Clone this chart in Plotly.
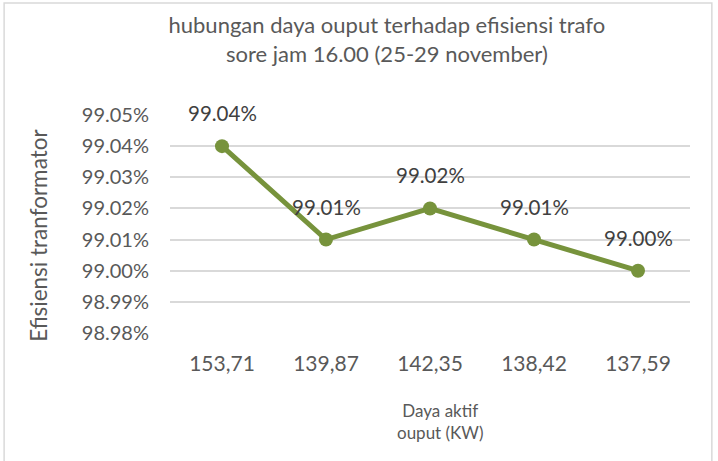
import plotly.graph_objects as go

categories = ["153,71", "139,87", "142,35", "138,42", "137,59"]
efficiency = [0.9904, 0.9901, 0.9902, 0.9901, 0.9900]
y_ticks = [0.9898, 0.9899, 0.9900, 0.9901, 0.9902, 0.9903, 0.9904, 0.9905]

FONT = "Lato, Open Sans, sans-serif"
GREY_TEXT = "#595959"
LINE_GREEN = "#77933C"

fig = go.Figure()
fig.add_trace(go.Scatter(
    x=categories, y=efficiency,
    mode="lines+markers",
    line=dict(color=LINE_GREEN, width=5),
    marker=dict(size=14, color=LINE_GREEN),
    hoverinfo="skip",
))

# data labels above each point
for cat, val in zip(categories, efficiency):
    fig.add_annotation(
        x=cat, y=val, text=f"{val * 100:.2f}%", showarrow=False,
        yshift=33, font=dict(family=FONT, size=20.5, color="#404040"),
    )

fig.update_layout(
    width=718, height=461,
    margin=dict(l=170, r=28, t=115, b=128),
    paper_bgcolor="white", plot_bgcolor="white",
    showlegend=False,
    font=dict(family=FONT, color=GREY_TEXT),
    title=dict(
        text="hubungan daya ouput terhadap efisiensi trafo<br>sore jam 16.00 (25-29 november)",
        font=dict(family=FONT, size=22, color=GREY_TEXT),
        xref="paper", x=0.417, xanchor="center",
        yref="container", y=1 - 33 / 461, yanchor="middle",
    ),
    xaxis=dict(
        type="category", range=[-0.5, 4.5],
        showgrid=False, showline=False, zeroline=False,
        tickfont=dict(family=FONT, size=21, color=GREY_TEXT),
        ticks="", ticklabelstandoff=16,
    ),
    yaxis=dict(
        range=[0.9898, 0.9905],
        tickvals=y_ticks, tickformat=".2%",
        showgrid=True, gridcolor="#d9d9d9", gridwidth=1.5,
        zeroline=False, showline=False,
        tickfont=dict(family=FONT, size=20, color=GREY_TEXT),
        ticks="", ticklabelstandoff=20,
    ),
)

fig.add_annotation(
    text="Daya aktif<br>ouput (KW)", xref="paper", yref="paper",
    x=0.521, y=-0.408, xanchor="center", yanchor="middle", showarrow=False,
    font=dict(family=FONT, size=17, color=GREY_TEXT),
)
fig.add_annotation(
    text="Efisiensi tranformator", xref="paper", yref="paper",
    x=-0.252, y=0.45, xanchor="center", yanchor="middle",
    textangle=-90, showarrow=False,
    font=dict(family=FONT, size=22.5, color=GREY_TEXT),
)

# chart border
fig.add_shape(
    type="rect", xref="paper", yref="paper",
    x0=-0.319, x1=1.042, y0=-0.6, y1=1.514,
    line=dict(color="#d9d9d9", width=1.5), layer="below",
)

fig.write_html(
    "out.html",
    config={"displayModeBar": False},
    post_script="document.body.style.margin='0';",
)
